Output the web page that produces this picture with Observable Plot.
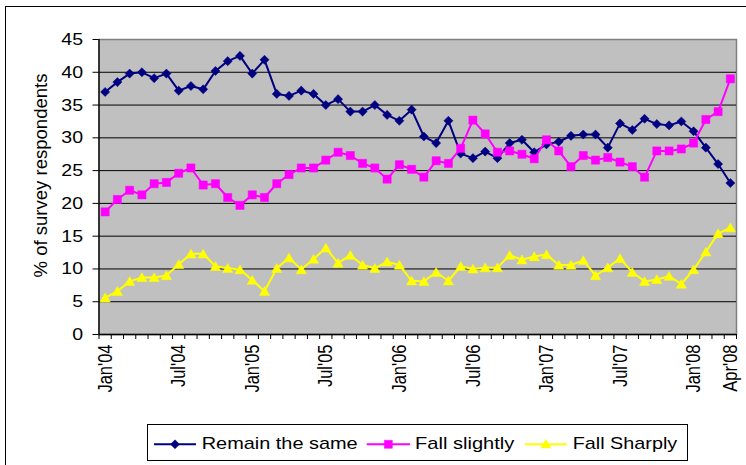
<!DOCTYPE html>
<html>
<head>
<meta charset="utf-8">
<script src="https://cdn.jsdelivr.net/npm/d3@7"></script>
<script src="https://cdn.jsdelivr.net/npm/@observablehq/plot@0.6"></script>
<style>
  html, body { margin: 0; padding: 0; background: #fff; }
  body { font-family: "Liberation Sans", Arial, sans-serif; }
  #wrap { position: relative; width: 746px; height: 465px; overflow: hidden; background: #fff; }
  #border { position: absolute; left: 5px; top: 6px; width: 800px; height: 520px; border: 1.5px solid #000; box-sizing: border-box; }
  #chart { position: absolute; left: 0; top: 0; }
  #legend { position: absolute; left: 147px; top: 424px; }
</style>
</head>
<body>
<div id="wrap">
  <div id="border"></div>
  <div id="chart"></div>
  <div id="legend"></div>
</div>
<script>
// ---- Data ----
const months = [
  "Jan'04","Feb'04","Mar'04","Apr'04","May'04","Jun'04","Jul'04","Aug'04","Sep'04","Oct'04","Nov'04","Dec'04",
  "Jan'05","Feb'05","Mar'05","Apr'05","May'05","Jun'05","Jul'05","Aug'05","Sep'05","Oct'05","Nov'05","Dec'05",
  "Jan'06","Feb'06","Mar'06","Apr'06","May'06","Jun'06","Jul'06","Aug'06","Sep'06","Oct'06","Nov'06","Dec'06",
  "Jan'07","Feb'07","Mar'07","Apr'07","May'07","Jun'07","Jul'07","Aug'07","Sep'07","Oct'07","Nov'07","Dec'07",
  "Jan'08","Feb'08","Mar'08","Apr'08"
];
const remainSame = [
  37.0,38.5,39.8,40.0,39.1,39.8,37.2,37.9,37.4,40.2,41.7,42.5,
  39.8,41.9,36.7,36.4,37.2,36.7,35.0,35.9,34.0,34.0,35.0,33.5,
  32.6,34.3,30.2,29.2,32.6,27.6,26.9,27.9,26.9,29.2,29.7,27.8,
  29.0,29.4,30.3,30.5,30.5,28.5,32.2,31.2,32.9,32.1,31.9,32.5,
  31.0,28.5,26.0,23.1
];
const fallSlightly = [
  18.7,20.6,22.0,21.3,23.0,23.2,24.6,25.4,22.8,23.0,20.9,19.7,
  21.3,20.9,23.0,24.4,25.4,25.4,26.6,27.8,27.3,26.1,25.4,23.7,
  25.9,25.2,24.0,26.5,26.1,28.4,32.7,30.6,27.8,28.0,27.5,26.8,
  29.7,28.0,25.6,27.3,26.6,27.0,26.3,25.6,24.0,28.0,28.0,28.3,
  29.2,32.8,34.0,39.0
];
const fallSharply = [
  5.6,6.6,8.1,8.7,8.7,9.0,10.7,12.3,12.3,10.4,10.1,9.9,
  8.3,6.6,10.1,11.7,9.9,11.5,13.2,10.9,12.1,10.6,10.1,11.1,
  10.6,8.2,8.1,9.5,8.2,10.4,10.0,10.2,10.2,12.1,11.4,11.9,
  12.2,10.6,10.6,11.3,9.0,10.2,11.6,9.5,8.1,8.4,8.9,7.7,
  9.9,12.6,15.4,16.3
];
const seriesNames = ["Remain the same", "Fall slightly", "Fall Sharply"];
const seriesColors = ["#000080", "#FF00FF", "#FFFF00"];
const yTicks = [0, 5, 10, 15, 20, 25, 30, 35, 40, 45];
const xTickLabels = ["Jan'04","Jul'04","Jan'05","Jul'05","Jan'06","Jul'06","Jan'07","Jul'07","Jan'08","Apr'08"];
const yTitle = "% of survey respondents";

// ---- Build tables ----
const allSeries = [remainSame, fallSlightly, fallSharply];
const tables = allSeries.map((vals, s) => vals.map((v, i) => ({ i, v, name: seriesNames[s] })));
const boundaries = months.map((m, i) => i - 0.5).concat([months.length - 0.5]);
const labelIdx = xTickLabels.map(l => months.indexOf(l));
const symbols = ["diamond2", "square", "triangle"];
const radii = [4.1, 4.6, 3.8];
const dys = [0, 0, 1.2];

const seriesMarks = tables.flatMap((t, s) => [
  Plot.line(t, { x: "i", y: "v", stroke: seriesColors[s], strokeWidth: 2 }),
  Plot.dot(t, { x: "i", y: "v", symbol: () => symbols[s], fill: seriesColors[s], stroke: seriesColors[s], strokeWidth: 0.5, r: radii[s], dy: dys[s] })
]);

const chart = Plot.plot({
  width: 746,
  height: 465,
  marginLeft: 98.5,
  marginRight: 10,
  marginTop: 39,
  marginBottom: 131,
  x: { type: "linear", domain: [-0.5, months.length - 0.5], label: null },
  y: { domain: [0, 45], label: null },
  style: { fontFamily: "'Liberation Sans', Arial, sans-serif", background: "none", color: "#000", overflow: "visible" },
  marks: [
    Plot.frame({ fill: "#c0c0c0", stroke: "#808080", strokeWidth: 1.5 }),
    Plot.ruleY(yTicks.filter(t => t > 0 && t < 45), { stroke: "#000", strokeWidth: 1 }),
    Plot.ruleX([-0.5], { stroke: "#000", strokeWidth: 1.3 }),
    Plot.ruleY([0], { stroke: "#000", strokeWidth: 1.3 }),
    Plot.axisY(yTicks, { tickSize: 6, tickPadding: 10, fontSize: 17, label: null, stroke: "#000", fill: "#000" }),
    Plot.axisX(boundaries, { tickSize: 5, tickFormat: () => "", label: null, stroke: "#000" }),
    Plot.text(labelIdx, { x: d => d, y: () => 0, text: d => months[d], rotate: -90, textAnchor: "end", lineAnchor: "middle", dy: 10, fontSize: 16.5, fill: "#000" }),
    Plot.text([yTitle], { frameAnchor: "left", text: d => d, rotate: -90, textAnchor: "middle", lineAnchor: "middle", dx: -58, dy: -11.5, fontSize: 17, fill: "#000" }),
    ...seriesMarks
  ]
});
document.getElementById("chart").appendChild(chart);

// stretch text across, to match the reference's proportions
chart.querySelectorAll('g[aria-label="y-axis tick label"] text').forEach(t => {
  const tr = t.getAttribute("transform");
  if (tr) t.setAttribute("transform", tr + " scale(1.15,1)");
});
chart.querySelectorAll("text").forEach(t => {
  const s = t.textContent;
  const tr = t.getAttribute("transform");
  if (xTickLabels.includes(s)) {
    if (tr) t.setAttribute("transform", tr + " scale(1,1.25)");
  } else if (s === yTitle) {
    if (tr) t.setAttribute("transform", tr + " scale(1,1.1)");
    t.setAttribute("textLength", 204);
    t.setAttribute("lengthAdjust", "spacingAndGlyphs");
  }
});

// ---- Legend ----
const lg = d3.select("#legend").append("svg").attr("width", 542).attr("height", 38)
  .style("font-family", "'Liberation Sans', Arial, sans-serif");
lg.append("rect").attr("x", 0.5).attr("y", 0.5).attr("width", 540).attr("height", 36)
  .attr("fill", "#fff").attr("stroke", "#000").attr("stroke-width", 1);
const legendItems = [
  { x0: 7, x1: 49, tx: 54.7, tl: 156 },
  { x0: 219.7, x1: 263, tx: 268, tl: 99.3 },
  { x0: 378, x1: 419.7, tx: 425.7, tl: 104.6 }
];
const markerPaths = [
  "M0,-4.5L4.5,0L0,4.5L-4.5,0Z",
  "M-4,-4H4V4H-4Z",
  "M0,-4.8L5,3.6L-5,3.6Z"
];
legendItems.forEach((it, s) => {
  const g = lg.append("g");
  g.append("line").attr("x1", it.x0).attr("x2", it.x1).attr("y1", 20.3).attr("y2", 20.3)
    .attr("stroke", seriesColors[s]).attr("stroke-width", 2);
  g.append("path").attr("d", markerPaths[s])
    .attr("transform", `translate(${(it.x0 + it.x1) / 2},20.3)`)
    .attr("fill", seriesColors[s]).attr("stroke", seriesColors[s]).attr("stroke-width", 0.5);
  g.append("text").attr("x", it.tx).attr("y", 24.5).attr("font-size", 17).attr("fill", "#000")
    .attr("textLength", it.tl).attr("lengthAdjust", "spacingAndGlyphs").text(seriesNames[s]);
});
</script>
</body>
</html>
